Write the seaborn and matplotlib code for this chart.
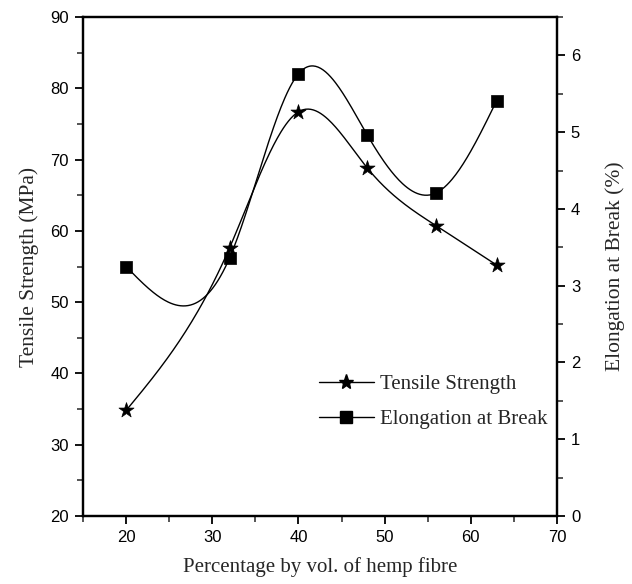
import numpy as np
import pandas as pd
import matplotlib
matplotlib.use("Agg")
import matplotlib.pyplot as plt
from matplotlib.lines import Line2D
from matplotlib.ticker import MultipleLocator
import seaborn as sns

# ---- data ----
fibre_pct = [20, 32, 40, 48, 56, 63]
tensile_strength = [34.8, 57.6, 76.7, 68.8, 60.7, 55.2]
elongation = [3.25, 3.36, 5.76, 4.96, 4.21, 5.41]
x_ticks = [20, 30, 40, 50, 60, 70]
left_ticks = [20, 30, 40, 50, 60, 70, 80, 90]
right_ticks = [0, 1, 2, 3, 4, 5, 6]


def natural_spline(x, y, n=300):
    """Smooth connector through the points (natural cubic spline)."""
    x = np.asarray(x, float)
    y = np.asarray(y, float)
    m = len(x)
    h = np.diff(x)
    A = np.zeros((m, m))
    b = np.zeros(m)
    A[0, 0] = A[-1, -1] = 1
    for i in range(1, m - 1):
        A[i, i - 1] = h[i - 1]
        A[i, i] = 2 * (h[i - 1] + h[i])
        A[i, i + 1] = h[i]
        b[i] = 6 * ((y[i + 1] - y[i]) / h[i] - (y[i] - y[i - 1]) / h[i - 1])
    M = np.linalg.solve(A, b)
    xs = np.linspace(x[0], x[-1], n)
    idx = np.clip(np.searchsorted(x, xs) - 1, 0, m - 2)
    x0, x1 = x[idx], x[idx + 1]
    hh = x1 - x0
    ys = (M[idx] * (x1 - xs) ** 3 / (6 * hh) + M[idx + 1] * (xs - x0) ** 3 / (6 * hh)
          + (y[idx] / hh - M[idx] * hh / 6) * (x1 - xs)
          + (y[idx + 1] / hh - M[idx + 1] * hh / 6) * (xs - x0))
    return xs, ys


sns.set_style("white")
plt.rcParams["font.family"] = ["Liberation Sans", "DejaVu Sans"]
serif = ["Liberation Serif", "DejaVu Serif"]

fig = plt.figure(figsize=(6.32, 5.84), dpi=100)
W, H = 632, 584
ax = fig.add_axes([83 / W, (H - 516) / H, (557 - 83) / W, (516 - 17) / H])
ax2 = ax.twinx()

df = pd.DataFrame({"x": fibre_pct, "ts": tensile_strength, "el": elongation})
xs, ys = natural_spline(fibre_pct, tensile_strength)
sns.lineplot(x=xs, y=ys, ax=ax, color="black", lw=1.0, legend=False)
sns.scatterplot(data=df, x="x", y="ts", ax=ax, marker="*", s=130, color="black",
                edgecolor="black", linewidth=0.5, legend=False, zorder=5)

xs2, ys2 = natural_spline(fibre_pct, elongation)
sns.lineplot(x=xs2, y=ys2, ax=ax2, color="black", lw=1.0, legend=False)
sns.scatterplot(data=df, x="x", y="el", ax=ax2, marker="s", s=75, color="black",
                edgecolor="black", linewidth=0.5, legend=False, zorder=5)

ax.set_xlim(15, 70)
ax.set_ylim(20, 90)
ax2.set_ylim(0, 6.5)
ax.set_xticks(x_ticks)
ax.set_yticks(left_ticks)
ax2.set_yticks(right_ticks)
ax.xaxis.set_minor_locator(MultipleLocator(5))
ax.yaxis.set_minor_locator(MultipleLocator(5))
ax2.yaxis.set_minor_locator(MultipleLocator(0.5))

for a in (ax, ax2):
    for sp in a.spines.values():
        sp.set_linewidth(1.6)
        sp.set_color("black")
ax.tick_params(axis="both", which="major", direction="out", length=6, width=1.3,
               labelsize=12, colors="black", pad=4)
ax.tick_params(axis="both", which="minor", direction="out", length=4, width=1.1)
ax.tick_params(axis="x", top=False, which="both")
ax.tick_params(axis="y", right=False, which="both", left=True)
ax.tick_params(axis="x", bottom=True, which="both")
ax2.tick_params(axis="y", which="major", direction="out", length=6, width=1.3,
                labelsize=12, colors="black", right=True, pad=4)
ax2.tick_params(axis="y", which="minor", direction="out", length=4, width=1.1, right=True)

ax.set_xlabel("Percentage by vol. of hemp fibre", family=serif, fontsize=15, labelpad=9)
ax.set_ylabel("Tensile Strength (MPa)", family=serif, fontsize=15.5, labelpad=8)
ax2.set_ylabel("Elongation at Break (%)", family=serif, fontsize=15.5, labelpad=18)

handles = [
    Line2D([], [], color="black", lw=1.0, marker="*", markersize=11),
    Line2D([], [], color="black", lw=1.0, marker="s", markersize=8),
]
leg = ax.legend(handles, ["Tensile Strength", "Elongation at Break"],
                loc="upper left", bbox_to_anchor=(0.48, 0.30), frameon=False,
                prop={"family": serif, "size": 15}, handlelength=2.65,
                handletextpad=0.3, labelspacing=0.75, borderaxespad=0)

fig.savefig("out.png", dpi=100, facecolor="white")
